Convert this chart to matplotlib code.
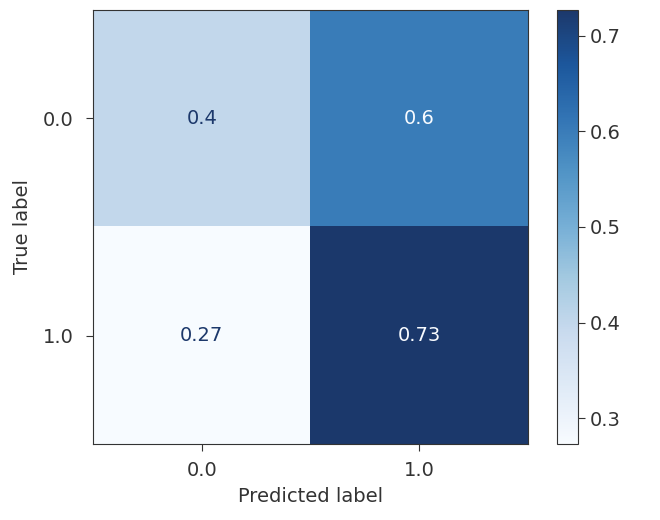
import numpy as np
import matplotlib
matplotlib.use('Agg')
import matplotlib.pyplot as plt
from matplotlib.colors import ListedColormap

labels = ['0.0', '1.0']
cm = np.array([[0.4, 0.6],
               [3 / 11, 8 / 11]])

plt.rcParams['font.size'] = 14
plt.rcParams['text.color'] = '#333333'
plt.rcParams['axes.labelcolor'] = '#333333'
plt.rcParams['xtick.color'] = '#333333'
plt.rcParams['ytick.color'] = '#333333'
plt.rcParams['axes.edgecolor'] = '#333333'
plt.rcParams['xtick.major.size'] = 5
plt.rcParams['ytick.major.size'] = 5

# Blues, shifted a little to look like the screenshot's colour rendering
base = plt.cm.Blues(np.linspace(0, 1, 256))
base[:, 0] = base[:, 0] + 0.08 * (1 - base[:, 0])
base[:, 1] = base[:, 1] + 0.05 * (1 - base[:, 1]) ** 2
cmap = ListedColormap(base)

fig = plt.figure(figsize=(6.6, 5.2), dpi=100)
ax = fig.add_axes([0.141, 0.146, 0.659, 0.835])
cax = fig.add_axes([0.844, 0.146, 0.032, 0.835])

im = ax.imshow(cm, cmap=cmap, interpolation='nearest', aspect='auto')
cb = fig.colorbar(im, cax=cax)
cb.outline.set_edgecolor('#333333')

thresh = (cm.max() + cm.min()) / 2
for i in range(2):
    for j in range(2):
        col = cmap(0.0) if cm[i, j] > thresh else cmap(1.0)
        ax.text(j, i, format(cm[i, j], '.2g'), ha='center', va='center', color=col)

ax.set_xticks(range(2))
ax.set_xticklabels(labels)
ax.set_yticks(range(2))
ax.set_yticklabels(labels)
ax.tick_params(axis='x', pad=7)
ax.tick_params(axis='y', pad=9)
ax.set_xlabel('Predicted label', labelpad=5)
ax.set_ylabel('True label', labelpad=8)

fig.savefig('out.png', dpi=100)
